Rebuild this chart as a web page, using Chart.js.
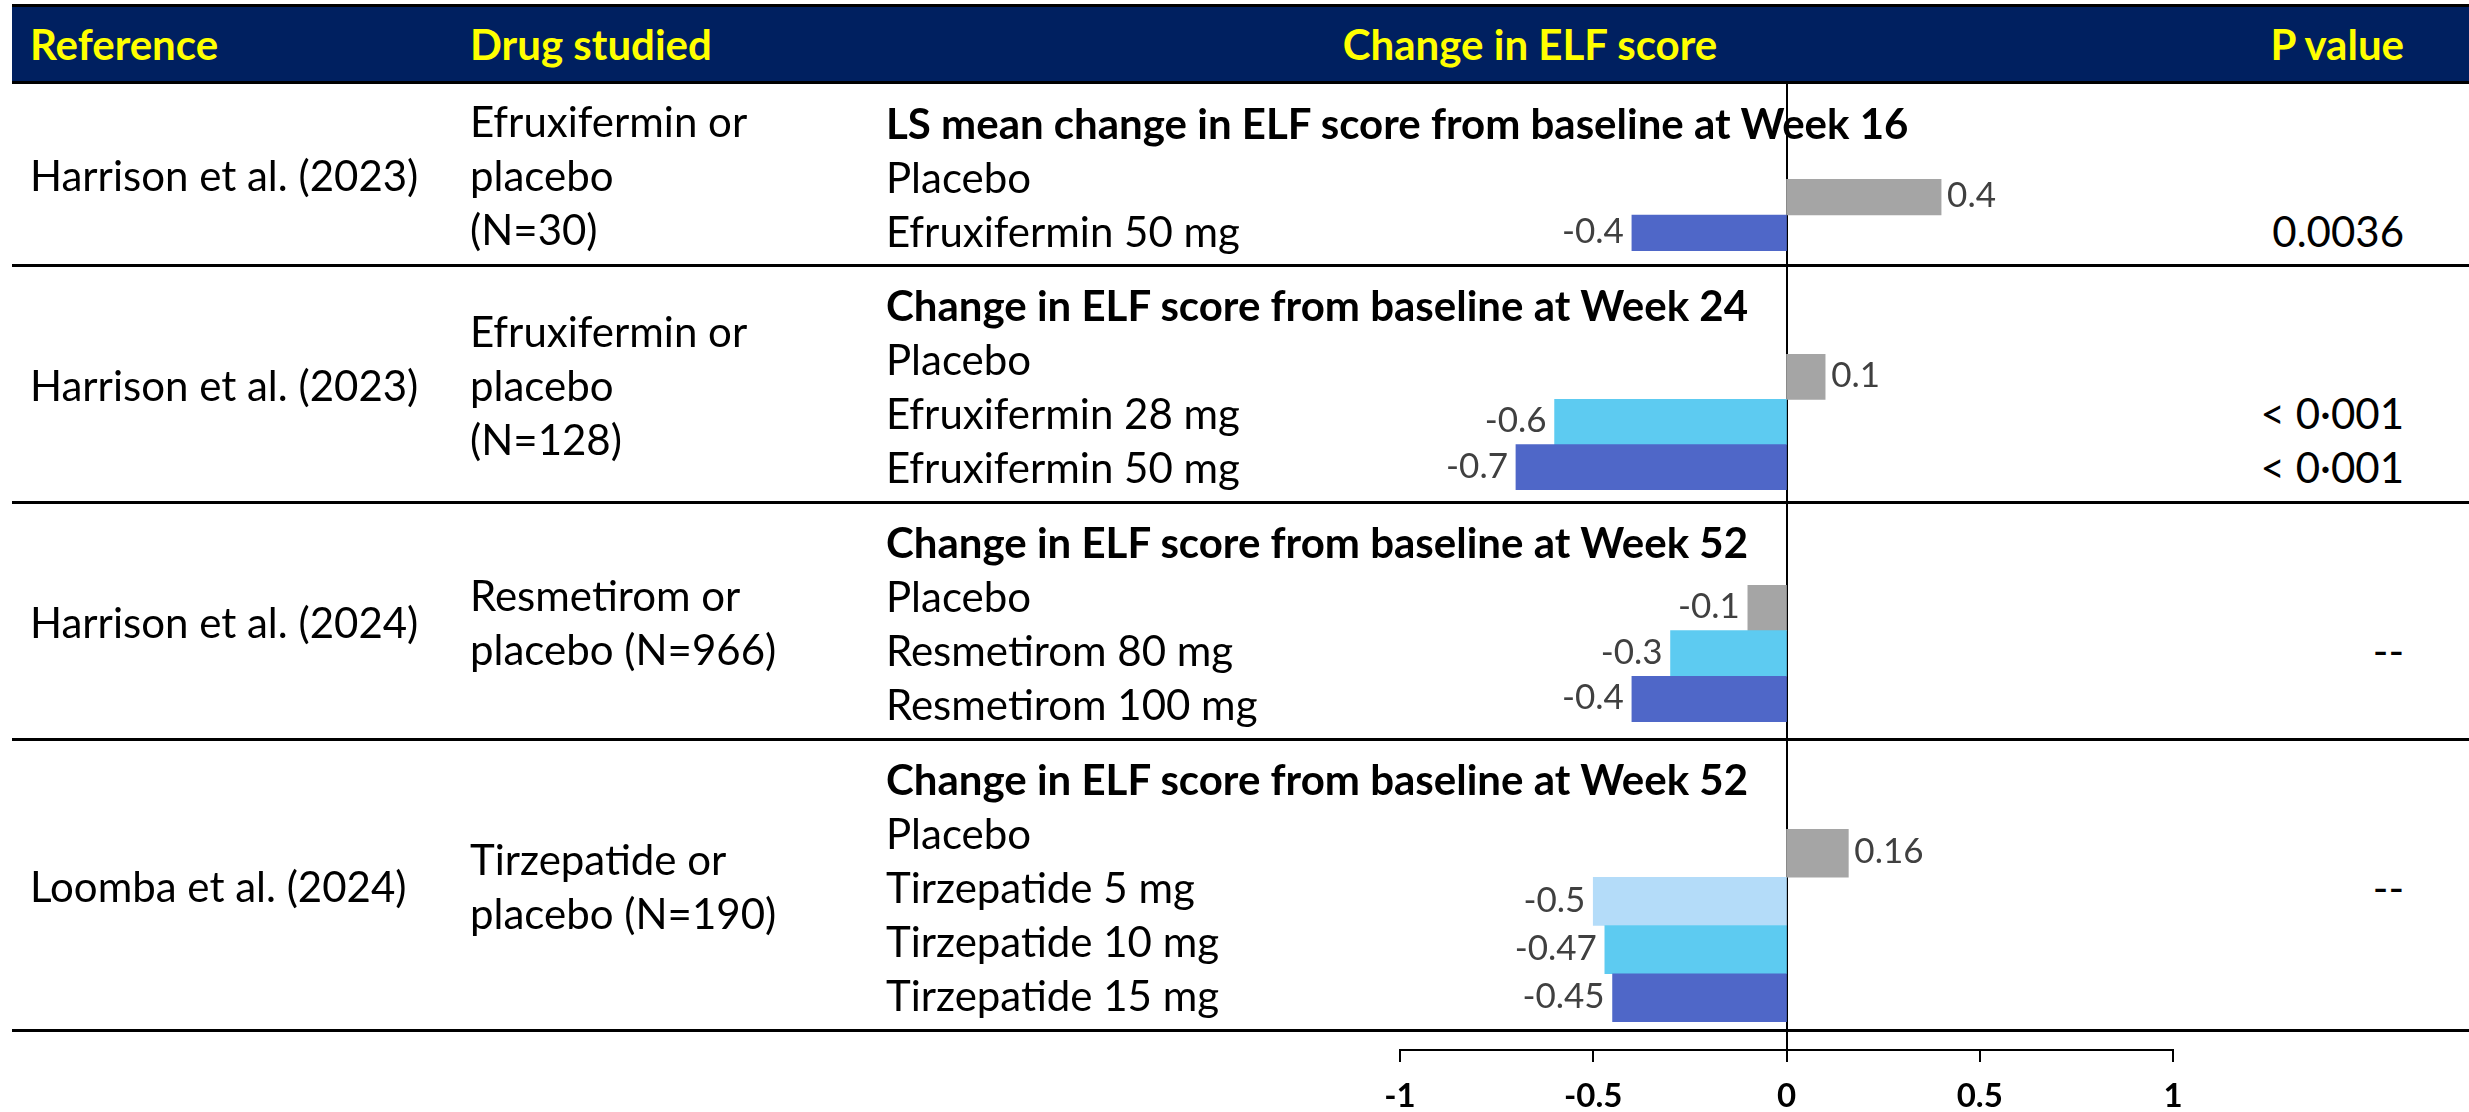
<!DOCTYPE html>
<html>
<head>
<meta charset="utf-8">
<title>Change in ELF score</title>
<script src="https://cdn.jsdelivr.net/npm/chart.js@4.4.1/dist/chart.umd.min.js"></script>
<style>
  html, body { margin: 0; padding: 0; background: #fff; }
  body { position: relative; width: 2469px; height: 1112px; overflow: hidden; font-family: Lato, 'Noto Sans', sans-serif; color: #000; }
  .abs { position: absolute; }
  .band { left: 12px; right: 0; top: 4px; height: 80px; background: #002060; border-top: 3px solid #000; border-bottom: 3px solid #000; box-sizing: border-box; }
  .hd { top: 4px; height: 80px; display: flex; align-items: center; color: #ffff00; font-weight: bold; font-size: 42px; white-space: nowrap; }
  .rule { left: 12px; right: 0; height: 3px; background: #000; }
  .cell { font-size: 42px; line-height: 54px; white-space: nowrap; }
  .mid { display: flex; flex-direction: column; justify-content: center; padding-top: 2px; box-sizing: border-box; }
  .title { font-weight: bold; }
  canvas { position: absolute; }
</style>
</head>
<body>
<canvas id="axisChart"></canvas>
<div id="page"></div>
<script>
// ─── DATA ────────────────────────────────────────────────────────────────
const headers = ['Reference', 'Drug studied', 'Change in ELF score', 'P value'];
const references = ['Harrison et al. (2023)', 'Harrison et al. (2023)', 'Harrison et al. (2024)', 'Loomba et al. (2024)'];
const drugLines = [
    ['Efruxifermin or', 'placebo', '(N=30)'],
    ['Efruxifermin or', 'placebo', '(N=128)'],
    ['Resmetirom or', 'placebo (N=966)'],
    ['Tirzepatide or', 'placebo (N=190)']
];
const outcomeTitles = [
    'LS mean change in ELF score from baseline at Week 16',
    'Change in ELF score from baseline at Week 24',
    'Change in ELF score from baseline at Week 52',
    'Change in ELF score from baseline at Week 52'
];

const armsEfx16   = ['Placebo', 'Efruxifermin 50 mg'];
const valuesEfx16 = [0.4, -0.4];
const pEfx16      = ['', '0.0036'];

const armsEfx24   = ['Placebo', 'Efruxifermin 28 mg', 'Efruxifermin 50 mg'];
const valuesEfx24 = [0.1, -0.6, -0.7];
const pEfx24      = ['', '< 0·001', '< 0·001'];

const armsRes52   = ['Placebo', 'Resmetirom 80 mg', 'Resmetirom 100 mg'];
const valuesRes52 = [-0.1, -0.3, -0.4];
const pRes52      = ['', '--', ''];

const armsTzp52   = ['Placebo', 'Tirzepatide 5 mg', 'Tirzepatide 10 mg', 'Tirzepatide 15 mg'];
const valuesTzp52 = [0.16, -0.5, -0.47, -0.45];
const pTzp52      = ['', '--', '', ''];

const xTicks = [-1, -0.5, 0, 0.5, 1];

// ─── STYLE / LAYOUT ──────────────────────────────────────────────────────
const PLACEBO = '#A5A5A5', LOW = '#B4DCF9', MID = '#5DCBF1', HIGH = '#4F67C8';
const groups = [
    { arms: armsEfx16, values: valuesEfx16, pvals: pEfx16, colors: [PLACEBO, HIGH] },
    { arms: armsEfx24, values: valuesEfx24, pvals: pEfx24, colors: [PLACEBO, MID, HIGH] },
    { arms: armsRes52, values: valuesRes52, pvals: pRes52, colors: [PLACEBO, MID, HIGH] },
    { arms: armsTzp52, values: valuesTzp52, pvals: pTzp52, colors: [PLACEBO, LOW, MID, HIGH] }
];
const HEAD_BOTTOM = 83;
const rowHeights = [182, 237, 237, 291];
const barInsets  = [[96, 14], [89, 12], [83, 17], [90, 8]];   // gap above / below the bar block in each row
const X_LEFT = 1400, X_RIGHT = 2173;                          // pixel span of -1 … 1
const AXIS_BOTTOM = 1050;

Chart.defaults.font.family = 'Lato';

const page = document.getElementById('page');
function add(html) { page.insertAdjacentHTML('beforeend', html); }

// header band
add(`<div class="abs band"></div>`);
add(`<div class="abs hd" style="left:30px">${headers[0]}</div>`);
add(`<div class="abs hd" style="left:470px">${headers[1]}</div>`);
add(`<div class="abs hd" style="left:1230px;width:600px;justify-content:center">${headers[2]}</div>`);
add(`<div class="abs hd" style="right:65px">${headers[3]}</div>`);

// value labels next to bar ends
const valueLabels = {
    id: 'valueLabels',
    afterDatasetsDraw(chart) {
        const ctx = chart.ctx;
        const ds = chart.data.datasets[0];
        ctx.save();
        ctx.font = '35px Lato';
        ctx.fillStyle = '#404040';
        ctx.textBaseline = 'middle';
        chart.getDatasetMeta(0).data.forEach((bar, i) => {
            const v = ds.data[i];
            ctx.textAlign = v < 0 ? 'right' : 'left';
            ctx.fillText(String(v), v < 0 ? bar.x - 8 : bar.x + 6, bar.y - 1);
        });
        ctx.restore();
    }
};

let rowTop = HEAD_BOTTOM;
groups.forEach((g, i) => {
    const h = rowHeights[i];
    add(`<div class="abs cell mid" style="left:30px;top:${rowTop}px;height:${h}px">${references[i]}</div>`);
    add(`<div class="abs cell mid" style="left:470px;top:${rowTop}px;height:${h}px">${drugLines[i].join('<br>')}</div>`);
    add(`<div class="abs cell" style="left:886px;top:${rowTop + 13}px"><span class="title">${outcomeTitles[i]}</span><br>${g.arms.join('<br>')}</div>`);
    add(`<div class="abs cell" style="right:65px;top:${rowTop + 13}px;text-align:right">&nbsp;<br>${g.pvals.map(p => p || '&nbsp;').join('<br>')}</div>`);

    const c = document.createElement('canvas');
    c.width = X_RIGHT - X_LEFT;
    c.height = h - barInsets[i][0] - barInsets[i][1];
    c.style.left = X_LEFT + 'px';
    c.style.top = (rowTop + barInsets[i][0]) + 'px';
    document.body.appendChild(c);
    new Chart(c, {
        type: 'bar',
        data: { labels: g.arms, datasets: [{ data: g.values, backgroundColor: g.colors, borderWidth: 0, barPercentage: 1, categoryPercentage: 1 }] },
        options: {
            indexAxis: 'y', responsive: false, animation: false,
            layout: { padding: 0 },
            plugins: { legend: { display: false }, tooltip: { enabled: false } },
            scales: { x: { display: false, min: -1, max: 1 }, y: { display: false } }
        },
        plugins: [valueLabels]
    });

    rowTop += h;
    add(`<div class="abs rule" style="top:${rowTop - 1}px"></div>`);
});

// ─── AXIS CHART: zero line + bottom scale ────────────────────────────────
const ac = document.getElementById('axisChart');
ac.width = X_RIGHT - X_LEFT + 80;
ac.height = 1112 - HEAD_BOTTOM;
ac.style.left = (X_LEFT - 40) + 'px';
ac.style.top = HEAD_BOTTOM + 'px';
const AXIS_H = ac.height - (AXIS_BOTTOM - HEAD_BOTTOM);
new Chart(ac, {
    type: 'scatter',
    data: { datasets: [{ data: [] }] },
    options: {
        responsive: false, animation: false,
        layout: { padding: { left: 40, right: 40, top: 0, bottom: 0 } },
        plugins: { legend: { display: false }, tooltip: { enabled: false } },
        scales: {
            x: {
                type: 'linear', position: 'bottom', min: -1, max: 1,
                afterBuildTicks: s => { s.ticks = xTicks.map(v => ({ value: v })); },
                afterFit: s => { s.height = AXIS_H; },
                grid: {
                    color: ctx => (ctx.tick && ctx.tick.value === 0) ? '#000' : 'rgba(0,0,0,0)',
                    lineWidth: 2, tickColor: '#000', tickLength: 12, drawTicks: true
                },
                border: { display: true, color: '#000', width: 2 },
                ticks: { color: '#000', padding: 15, font: { size: 33, weight: 'bold' }, callback: v => String(v) }
            },
            y: { display: false }
        }
    }
});
</script>
</body>
</html>
